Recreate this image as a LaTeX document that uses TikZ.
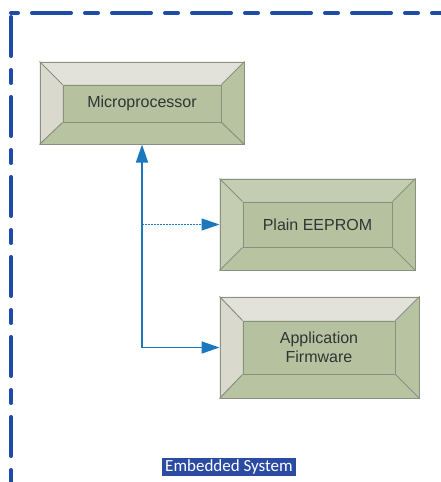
\documentclass[tikz,border=0pt]{standalone}
\usepackage{fontspec}
\setmainfont{Liberation Sans}
\newfontfamily\labelfont{Carlito}
\usetikzlibrary{arrows.meta}
\pgfdeclarelayer{bg}
\pgfsetlayers{bg,main}
\definecolor{bordblue}{HTML}{1E4AA8}
\definecolor{arrblue}{HTML}{1B78BE}
\definecolor{boxline}{HTML}{8A9080}
\definecolor{green1}{HTML}{B8C3A2}
\definecolor{green2}{HTML}{B6C1A0}
\definecolor{greenlt}{HTML}{C4CDB1}
\definecolor{greyt}{HTML}{E2E2DA}
\definecolor{greyl}{HTML}{D9D9CD}
\definecolor{txtgrey}{HTML}{333333}
\definecolor{hlblue}{HTML}{2B4BA3}
\tikzset{
  outerbox/.style={draw=boxline, line width=1pt, inner sep=0pt},
  innerbox/.style={draw=boxline, fill=green2, line width=1pt, inner sep=0pt,
    font=\fontsize{16}{19.5}\selectfont, text=txtgrey, align=center},
  bevelline/.style={draw=boxline, line width=1pt},
  arr/.style={draw=arrblue, line width=1.6pt, -{Triangle[length=18pt,width=12pt]}},
  dotarr/.style={draw=arrblue, line width=1.2pt, dash pattern=on 1.5pt off 1.5pt, -{Triangle[length=18pt,width=12pt]}},
  border/.style={draw=bordblue, line width=4pt, line cap=round},
}
\newcommand{\bevels}[4]{% outer, inner, top colour, left colour
  \begin{pgfonlayer}{bg}
    \fill[green1] (#1.north west) rectangle (#1.south east);
    \fill[#3] (#1.north west) -- (#1.north east) -- (#2.north east) -- (#2.north west) -- cycle;
    \fill[#4] (#1.north west) -- (#2.north west) -- (#2.south west) -- (#1.south west) -- cycle;
  \end{pgfonlayer}
  \draw[bevelline] (#1.north west) -- (#2.north west);
  \draw[bevelline] (#1.north east) -- (#2.north east);
  \draw[bevelline] (#1.south west) -- (#2.south west);
  \draw[bevelline] (#1.south east) -- (#2.south east);
}
\begin{document}
\begin{tikzpicture}[x=1pt, y=-1pt]
\useasboundingbox (0,0) rectangle (441,482);
\begin{pgfonlayer}{bg}
\fill[white] (0,0) rectangle (441,482);
\end{pgfonlayer}
% dashed border
\coordinate (tl) at (11,13);
\coordinate (tr) at (447,13);
\coordinate (bl) at (11,490);
\draw[border, dash pattern=on 39pt off 14pt on 13pt off 14pt, dash phase=59pt] (tl) -- (tr);
\draw[border, dash pattern=on 39pt off 14pt on 13pt off 14pt, dash phase=76pt] (tl) -- (bl);
% boxes
\node[outerbox, minimum width=204pt, minimum height=82pt] (mp) at (142,103) {};
\node[innerbox, minimum width=158pt, minimum height=37pt] (mpi) at (142,103.5) {Microprocessor};
\bevels{mp}{mpi}{greyt}{greyl}
\node[outerbox, minimum width=195pt, minimum height=91pt] (ee) at (317.5,224.5) {};
\node[innerbox, minimum width=149pt, minimum height=45pt] (eei) at (317.5,224.5) {Plain EEPROM};
\bevels{ee}{eei}{greenlt}{greenlt}
\node[outerbox, minimum width=199pt, minimum height=101pt] (fw) at (319.5,347.5) {};
\node[innerbox, minimum width=152pt, minimum height=53pt] (fwi) at (319,347.5) {Application\\Firmware};
\bevels{fw}{fwi}{greyt}{greyl}
% connectors
\coordinate (corner) at (mp.south |- fw.west);
\draw[arr] (corner) -- (mp.south);
\draw[arr] (corner) -- (fw.west);
\coordinate (tee) at (mp.south |- ee.west);
\draw[dotarr] (tee) -- (ee.west);
% label
\node[fill=hlblue, text=white, inner sep=0pt, minimum width=134pt, minimum height=18pt,
  font=\labelfont\fontsize{17}{18}\selectfont] (lbl) at (229,467) {Embedded System};
\end{tikzpicture}
\end{document}
